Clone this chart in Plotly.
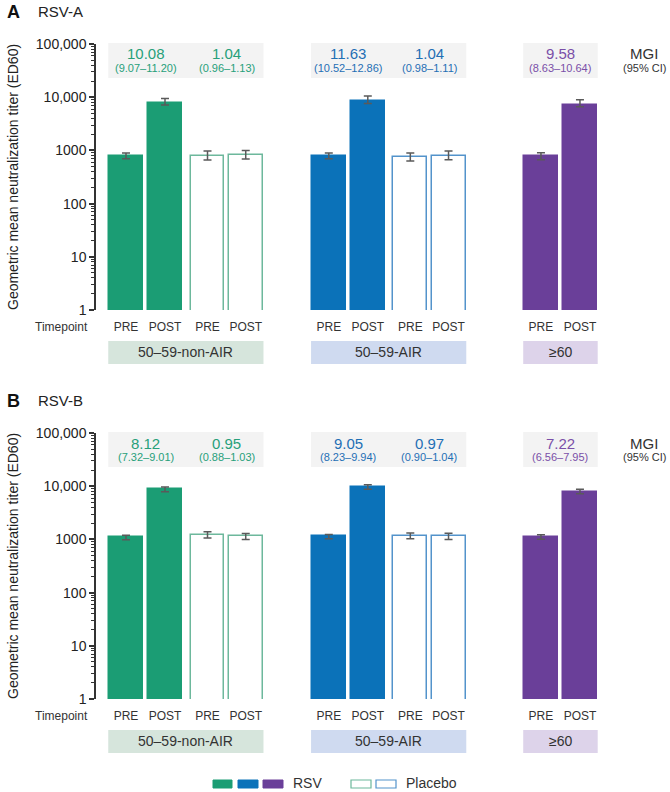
import plotly.graph_objects as go

# DATA
timepoints = ["PRE", "POST", "PRE", "POST", "PRE", "POST", "PRE", "POST", "PRE", "POST"]
arm = ["RSV", "RSV", "Placebo", "Placebo", "RSV", "RSV", "Placebo", "Placebo", "RSV", "RSV"]
group_idx = [0, 0, 0, 0, 1, 1, 1, 1, 2, 2]
group_names = ["50–59-non-AIR", "50–59-AIR", "≥60"]

# RSV-A geometric mean titers and 95% CI
rsv_a_gmt = [780, 7800, 775, 810, 780, 8600, 740, 785, 775, 7250]
rsv_a_lo = [700, 7150, 660, 690, 700, 7650, 630, 670, 670, 6650]
rsv_a_hi = [890, 9500, 970, 1000, 890, 10500, 890, 970, 905, 8980]

# RSV-B geometric mean titers and 95% CI
rsv_b_gmt = [1090, 8700, 1220, 1150, 1140, 9700, 1170, 1150, 1120, 7950]
rsv_b_lo = [990, 7850, 1060, 1000, 1030, 8800, 1030, 1000, 1010, 7200]
rsv_b_hi = [1200, 9700, 1390, 1290, 1240, 10700, 1320, 1300, 1220, 8800]

# MGI labels (one per RSV/placebo pair)
mgi_pairs = [(0, 1), (2, 3), (4, 5), (6, 7), (8, 9)]
rsv_a_mgi = ["10.08", "1.04", "11.63", "1.04", "9.58"]
rsv_a_ci = ["(9.07–11.20)", "(0.96–1.13)", "(10.52–12.86)", "(0.98–1.11)", "(8.63–10.64)"]
rsv_b_mgi = ["8.12", "0.95", "9.05", "0.97", "7.22"]
rsv_b_ci = ["(7.32–9.01)", "(0.88–1.03)", "(8.23–9.94)", "(0.90–1.04)", "(6.56–7.95)"]

# y tick labels
ytick_vals = [1, 10, 100, 1000, 10000, 100000]
ytick_text = ["1", "10", "100", "1000", "10,000", "100,000"]

# STYLE
W, H = 670, 792
ML, MR = 96, 10
PW = W - ML - MR
FONT = "Arial, Liberation Sans, sans-serif"
fill_cols = ["#1b9d74", "#0b72b9", "#6a3f99"]
edge_cols = ["#6db89c", "#5393cb", "#6a3f99"]
text_cols = ["#27a07a", "#1f6fb5", "#7a4fa8"]
box_cols = ["#d6e5dc", "#cfdaf0", "#ddd3ea"]
mgi_box = "#f3f3f3"

# x positions: group start + offset inside group
group_start = [0, 5.2, 10.64]
offsets = [0, 1, 2.09, 3.07]
xpos = []
count = {}
for g in group_idx:
    k = count.get(g, 0)
    xpos.append(group_start[g] + offsets[k])
    count[g] = k + 1
bar_w = 0.87

# minor log ticks 2..9 in each decade
minor_vals = [k * 10 ** d for d in range(5) for k in range(2, 10)]


def py(p):  # pixel y -> paper
    return 1 - p / H


def px(p):  # pixel x -> paper
    return (p - ML) / PW


def note(text, x, y, size, color, xref="paper", xanchor="center", angle=0):
    return dict(text=text, xref=xref, yref="paper", x=x, y=y, xanchor=xanchor,
                yanchor="middle", textangle=angle, showarrow=False,
                font=dict(size=size, color=color))


fig = go.Figure()

panels = [
    ("x", "y", rsv_a_gmt, rsv_a_lo, rsv_a_hi, rsv_a_mgi, rsv_a_ci, 0, "A", "RSV-A"),
    ("x2", "y2", rsv_b_gmt, rsv_b_lo, rsv_b_hi, rsv_b_mgi, rsv_b_ci, 389, "B", "RSV-B"),
]

shapes = []
annotations = []

for xa, ya, gmt, lo, hi, mgi, ci, dy, letter, title in panels:
    colors = [fill_cols[g] if a == "RSV" else "white" for g, a in zip(group_idx, arm)]
    lines = [fill_cols[g] if a == "RSV" else edge_cols[g] for g, a in zip(group_idx, arm)]
    fig.add_trace(go.Bar(
        x=xpos, y=gmt, width=bar_w, xaxis=xa, yaxis=ya,
        marker=dict(color=colors, line=dict(color=lines, width=1.5)),
        error_y=dict(type="data", symmetric=False,
                     array=[h - v for h, v in zip(hi, gmt)],
                     arrayminus=[v - l for v, l in zip(gmt, lo)],
                     color="#5a5a5a", thickness=1.5, width=4),
        showlegend=False, hoverinfo="skip"))

    # MGI boxes and group label boxes, one per group
    for g in range(3):
        idx = [i for i, gg in enumerate(group_idx) if gg == g]
        x0 = xpos[idx[0]] - bar_w / 2 - 0.02
        x1 = xpos[idx[-1]] + bar_w / 2 + 0.02
        shapes.append(dict(type="rect", xref=xa, yref="paper", x0=x0, x1=x1,
                           y0=py(78 + dy), y1=py(43 + dy), fillcolor=mgi_box,
                           line=dict(width=0), layer="below"))
        shapes.append(dict(type="rect", xref=xa, yref="paper", x0=x0, x1=x1,
                           y0=py(364 + dy), y1=py(341 + dy), fillcolor=box_cols[g],
                           line=dict(width=0)))
        annotations.append(note(group_names[g], (x0 + x1) / 2, py(352 + dy), 14,
                                "#333333", xref=xa))

    for (i, j), m, c in zip(mgi_pairs, mgi, ci):
        xc = (xpos[i] + xpos[j]) / 2
        col = text_cols[group_idx[i]]
        annotations.append(note(m, xc, py(54 + dy), 15, col, xref=xa))
        annotations.append(note(c, xc, py(68 + dy), 11, col, xref=xa))

    annotations.append(note("MGI", px(644), py(54 + dy), 15, "#333333"))
    annotations.append(note("(95% CI)", px(644), py(68 + dy), 11, "#333333"))
    annotations.append(note("Timepoint", px(90), py(327 + dy), 12, "#333333", xanchor="right"))
    annotations.append(note("<b>" + letter + "</b>", px(5), py(12 + dy), 18, "#111111",
                            xanchor="left"))
    annotations.append(note(title, px(36), py(12 + dy), 15, "#222222", xanchor="left"))
    annotations.append(note("Geometric mean neutralization titer (ED60)", px(13),
                            py(177 + dy), 14, "#222222", angle=-90))

# legend drawn by hand
for k, (x0, x1) in enumerate([(213, 232), (238, 258), (263, 283)]):
    shapes.append(dict(type="rect", xref="paper", yref="paper",
                       x0=px(x0), x1=px(x1), y0=py(788), y1=py(780),
                       fillcolor=fill_cols[k], line=dict(color=fill_cols[k], width=1)))
for k, (x0, x1) in enumerate([(351, 371), (376, 396)]):
    shapes.append(dict(type="rect", xref="paper", yref="paper",
                       x0=px(x0), x1=px(x1), y0=py(788), y1=py(780),
                       fillcolor="white", line=dict(color=edge_cols[k], width=1.2)))
annotations.append(note("RSV", px(291), py(783), 14, "#333333", xanchor="left"))
annotations.append(note("Placebo", px(404), py(783), 14, "#333333", xanchor="left"))

xrange = [(ML - 126) / 39, (W - MR - 126) / 39]
yaxis_common = dict(
    type="log", range=[0, 5], showline=True, linecolor="#333333", linewidth=1.5,
    ticks="outside", ticklen=5, tickcolor="#333333", tickwidth=1.5,
    tickvals=ytick_vals, ticktext=ytick_text,
    tickfont=dict(size=14, color="#222222"),
    minor=dict(tickmode="array", tickvals=minor_vals, ticks="outside", ticklen=3,
               tickcolor="#333333", tickwidth=1, showgrid=False),
    showgrid=False, zeroline=False, automargin=False,
)
xaxis_common = dict(
    range=xrange, showline=False, showgrid=False, zeroline=False, ticks="",
    tickvals=xpos, ticktext=timepoints, tickfont=dict(size=12, color="#333333"),
    ticklabelstandoff=8, automargin=False,
)

fig.update_layout(
    width=W, height=H, plot_bgcolor="white", paper_bgcolor="white",
    margin=dict(l=ML, r=MR, t=0, b=0, autoexpand=False),
    font=dict(family=FONT),
    bargap=0,
    xaxis=dict(domain=[0, 1], anchor="y", **xaxis_common),
    yaxis=dict(domain=[py(310), py(44)], anchor="x", **yaxis_common),
    xaxis2=dict(domain=[0, 1], anchor="y2", **xaxis_common),
    yaxis2=dict(domain=[py(699), py(433)], anchor="x2", **yaxis_common),
    shapes=shapes, annotations=annotations,
)

# drop the default page margin so the figure sits at the window's top-left corner
fig.write_html("out.html", config={"displayModeBar": False},
               post_script="document.body.style.margin='0';document.body.style.overflow='hidden';")
